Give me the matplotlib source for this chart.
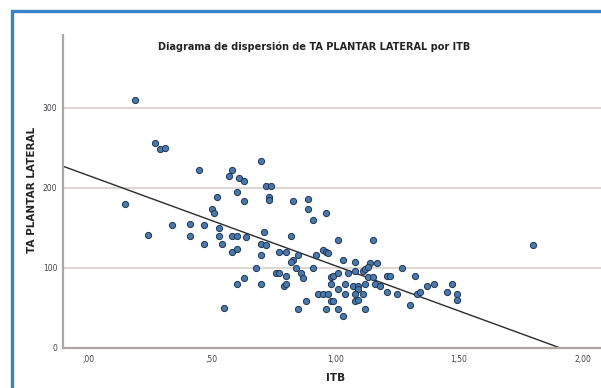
import numpy as np
import matplotlib
matplotlib.use("Agg")
import matplotlib.pyplot as plt
from matplotlib.patches import Rectangle

# ITB vs TA PLANTAR LATERAL
itb = [0.19, 0.27, 0.29, 0.31, 0.45, 0.57, 0.58, 0.61, 0.63, 0.60, 0.52, 0.63,
       0.70, 0.72, 0.74, 0.73, 0.73, 0.83, 0.89, 0.89, 0.96, 0.91, 0.15, 0.24,
       0.34, 0.41, 0.41, 0.47, 0.47, 0.50, 0.51, 0.53, 0.53, 0.54, 0.58, 0.60,
       0.58, 0.60, 0.64, 0.71, 0.70, 0.72, 0.70, 0.68, 0.63, 0.60, 0.70, 0.55,
       0.82, 0.77, 0.80, 0.85, 0.83, 0.82, 0.84, 0.76, 0.77, 0.80, 0.79, 0.80,
       0.92, 0.95, 0.96, 0.97, 1.01, 0.91, 0.86, 0.87, 0.88, 0.85, 0.93, 0.95,
       0.97, 0.98, 0.99, 0.96, 1.01, 1.03, 0.98, 0.98, 0.99, 1.01, 1.01, 1.03,
       1.04, 1.05, 1.08, 1.15, 1.14, 1.17, 1.08, 1.11, 1.12, 1.13, 1.13, 1.15,
       1.07, 1.09, 1.09, 1.12, 1.16, 1.18, 1.04, 1.08, 1.11, 1.08, 1.09, 1.12,
       1.21, 1.22, 1.27, 1.32, 1.21, 1.25, 1.33, 1.34, 1.37, 1.40, 1.47, 1.45,
       1.49, 1.49, 1.30, 1.80]
ta = [310, 256, 249, 250, 222, 215, 222, 212, 209, 195, 188, 183,
      234, 202, 202, 189, 185, 183, 186, 174, 168, 160, 180, 141,
      154, 155, 140, 153, 130, 174, 168, 150, 140, 130, 140, 140,
      120, 124, 138, 145, 130, 128, 116, 100, 87, 80, 80, 50,
      140, 120, 120, 116, 110, 107, 100, 94, 94, 90, 77, 80,
      116, 122, 120, 119, 135, 100, 94, 87, 58, 48, 67, 67,
      67, 58, 58, 48, 48, 40, 80, 88, 90, 94, 74, 110,
      80, 94, 107, 135, 106, 106, 96, 96, 99, 101, 88, 88,
      77, 77, 73, 80, 80, 77, 67, 67, 67, 58, 60, 48,
      90, 90, 100, 90, 70, 67, 67, 70, 77, 80, 80, 70,
      67, 60, 53, 128]

# fit line at total
fit_intercept = 215.4
fit_slope = -113.0

x_ticks = [0.0, 0.5, 1.0, 1.5, 2.0]
x_labels = [",00", ",50", "1,00", "1,50", "2,00"]
y_ticks = [0, 100, 200, 300]

fig = plt.figure(figsize=(6.01, 3.88), dpi=100)
ax = fig.add_axes([0.1048, 0.1039, 0.8952, 0.8059])

ax.set_xlim(-0.102, 2.074)
ax.set_ylim(0, 391)

for v in y_ticks[1:]:
    ax.axhline(v, color="#d9d5d1", lw=1.3, zorder=0)

ax.scatter(itb, ta, s=20, facecolor="#4a78aa", edgecolor="#1e3656",
           linewidth=0.7, zorder=3)

xs = np.array(ax.get_xlim())
ax.plot(xs, fit_intercept + fit_slope * xs, color="#2b2b2b", lw=1.0, zorder=2)

for s in ["top", "right"]:
    ax.spines[s].set_visible(False)
for s in ["left", "bottom"]:
    ax.spines[s].set_color("#aba7a3")
    ax.spines[s].set_linewidth(1.6)

ax.set_xticks(x_ticks)
ax.set_xticklabels(x_labels)
ax.set_yticks(y_ticks)
ax.tick_params(axis="both", length=0, labelsize=5.5, colors="#444444")
ax.tick_params(axis="x", pad=5)
ax.tick_params(axis="y", pad=4)

fig.text(0.5225, 0.879, "Diagrama de dispersión de TA PLANTAR LATERAL por ITB",
         ha="center", va="center", fontsize=7, fontweight="bold", color="#222222")
fig.text(0.053, 0.51, "TA PLANTAR LATERAL", rotation=90, ha="center",
         va="center", fontsize=7.5, fontweight="bold", color="#222222")
fig.text(0.559, 0.026, "ITB", ha="center", va="center", fontsize=7.5,
         fontweight="bold", color="#222222")

# blue frame on the left and top
fig.add_artist(Rectangle((11.5 / 601, -0.1), 1.2, 1.0 - 10.5 / 388 + 0.1,
                         transform=fig.transFigure, fill=False,
                         edgecolor="#3b83c6", lw=2.4))

fig.savefig("out.png", dpi=100)
